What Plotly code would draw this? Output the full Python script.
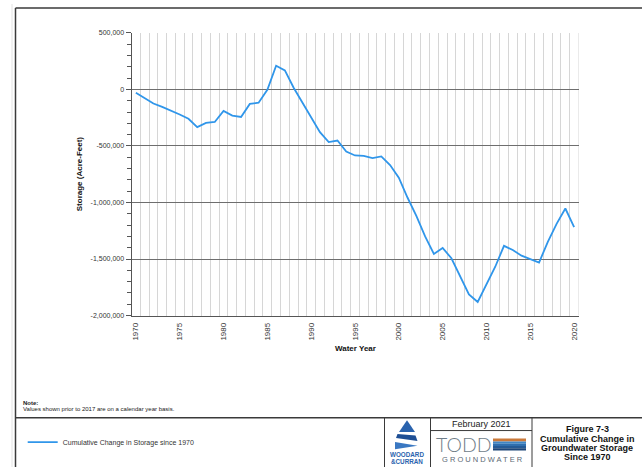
import plotly.graph_objects as go

# Cumulative change in groundwater storage (acre-feet), water years 1970-2020
years = list(range(1970, 2021))
storage = [
    -30000, -78000, -125000, -155000, -187000, -222000, -260000, -333000,
    -296000, -288000, -190000, -232000, -244000, -128000, -118000, -3000,
    209000, 168000, 15000, -115000, -250000, -378000, -466000, -452000,
    -550000, -584000, -587000, -607000, -592000, -669000, -781000, -958000,
    -1118000, -1300000, -1455000, -1402000, -1493000, -1652000, -1812000,
    -1880000, -1725000, -1568000, -1383000, -1420000, -1470000, -1500000,
    -1531000, -1348000, -1189000, -1053000, -1217000,
]
series_name = "Cumulative Change in Storage since 1970"

y_tickvals = [500000, 0, -500000, -1000000, -1500000, -2000000]
y_ticktext = ["500,000", "0", "-500,000", "-1,000,000", "-1,500,000", "-2,000,000"]
x_tickvals = list(range(1970, 2021, 5))
x_ticktext = [str(v) for v in x_tickvals]

W, H = 642, 470


def px(x):
    return x / W


def py(y):
    return 1 - y / H


FONT = "Liberation Sans, Arial, sans-serif"
NARROW = "Liberation Sans Narrow, Arial Narrow, Liberation Sans"
LINE_BLUE = "#3096ea"
DARK = "#3a3a3a"

fig = go.Figure()
fig.add_trace(go.Scatter(
    x=years, y=storage, mode="lines", name=series_name,
    line=dict(color=LINE_BLUE, width=1.8),
    showlegend=True,
))

fig.update_layout(
    width=W, height=H, autosize=False,
    margin=dict(l=0, r=0, t=0, b=0),
    paper_bgcolor="white", plot_bgcolor="white",
    font=dict(family=FONT, color="#333333"),
    showlegend=True,
    legend=dict(
        x=px(22.7), y=py(444.7), xanchor="left", yanchor="middle",
        font=dict(size=7, family=FONT, color="#333333"),
        bgcolor="rgba(0,0,0,0)", borderwidth=0,
    ),
    xaxis=dict(
        domain=[px(131.5), px(578.5)],
        range=[1969.5, 2020.5],
        tickmode="array", tickvals=x_tickvals, ticktext=x_ticktext,
        tickangle=-90, tickfont=dict(size=8, family=FONT, color="#333333"),
        ticklabelstandoff=3,
        ticks="", showgrid=False, zeroline=False,
        showline=True, linecolor="#555555", linewidth=1,
        minor=dict(tick0=1969.5, dtick=1, showgrid=True,
                   gridcolor="#d6d6d6", gridwidth=1, ticks=""),
        fixedrange=True,
    ),
    yaxis=dict(
        domain=[py(316.3), py(29.3)],
        range=[-2000000, 500000],
        tickmode="array", tickvals=y_tickvals, ticktext=y_ticktext,
        tickfont=dict(size=7, family=FONT, color="#333333"),
        ticks="outside", ticklen=5, tickcolor="#555555", tickwidth=1,
        showgrid=True, gridcolor="#6e6e6e", gridwidth=1.3,
        zeroline=False,
        showline=True, linecolor="#555555", linewidth=1,
        minor=dict(dtick=100000, tick0=0, ticks="outside", ticklen=4,
                   tickcolor="#555555", showgrid=False),
        fixedrange=True,
    ),
)


def label(x, y, text, size, color, family=FONT, angle=0, xanchor="center", weight=None):
    font = dict(size=size, family=family, color=color)
    if weight is not None:
        font["weight"] = weight
    fig.add_annotation(x=px(x), y=py(y), xref="paper", yref="paper",
                       text=text, textangle=angle, showarrow=False,
                       xanchor=xanchor, yanchor="middle", font=font)


# axis titles
label(79, 172.8, "<b>Storage (Acre-Feet)</b>", 8, "#111111", angle=-90)
label(355, 350, "<b>Water Year</b>", 8, "#111111")

# note
label(21, 405.3, "<b>Note:</b>", 6, "#222222", xanchor="left")
label(21, 411.3, "Values shown prior to 2017 are on a calendar year basis.", 6,
      "#222222", xanchor="left")

# page frame and title-block dividers
frame = [
    (15.5, 4, 15.5, 470, DARK, 1.5),
    (15.5, 4, 642, 4, DARK, 1.5),
    (15.5, 420, 642, 420, DARK, 1.5),
    (384.5, 420, 384.5, 470, DARK, 1),
    (430.5, 420, 430.5, 470, DARK, 1),
    (532, 420, 532, 470, DARK, 1),
    (430.5, 433, 532, 433, DARK, 1),
    (12, 0, 12, 470, "#e2e2e2", 1),
]
for x0, y0, x1, y1, c, w in frame:
    fig.add_shape(type="line", xref="paper", yref="paper",
                  x0=px(x0), y0=py(y0), x1=px(x1), y1=py(y1),
                  line=dict(color=c, width=w))

# right edge year-boundary grid line
fig.add_shape(type="line", xref="x", yref="y",
              x0=2020.5, x1=2020.5, y0=-2000000, y1=500000,
              line=dict(color="#d6d6d6", width=1), layer="below")


def poly(points, color):
    d = "M " + " L ".join(f"{px(x)},{py(y)}" for x, y in points) + " Z"
    fig.add_shape(type="path", xref="paper", yref="paper", path=d,
                  fillcolor=color, line=dict(width=0))


# Woodard & Curran mark
WC_BLUE = "#2a63ae"
poly([(407, 422.5), (415, 434.5), (399, 434.5)], WC_BLUE)
poly([(397.5, 436.5), (415.5, 438), (417.5, 443.5), (396, 440.5)], "#1e4f95")
poly([(395, 444.5), (417.5, 448.5), (395, 452)], "#3a78c2")
label(406.5, 457.8, "<b>WOODARD</b>", 6.3, WC_BLUE, family=NARROW)
label(406.5, 464, "<b>&amp;CURRAN</b>", 6.3, WC_BLUE, family=NARROW)

# Todd Groundwater block
label(481.5, 426.5, "February 2021", 9, "#222222")
label(463.5, 447.3, "TODD", 19.5, "#6f7d89", family="Lato, Liberation Sans", weight=300)
label(482, 462.7, "G R O U N D W A T E R", 7.5, "#5d6a75")
fig.add_shape(type="rect", xref="paper", yref="paper",
              x0=px(493), x1=px(526), y0=py(444), y1=py(441),
              fillcolor="#c9793a", line=dict(width=0))
bands = ["#3f86c4", "#2f6fae", "#245a95", "#1c4679"]
for i, c in enumerate(bands):
    fig.add_shape(type="rect", xref="paper", yref="paper",
                  x0=px(493), x1=px(526),
                  y0=py(444 + i * 2.3 + 2.3), y1=py(444 + i * 2.3),
                  fillcolor=c, line=dict(width=0))

# figure caption
caption = ["Figure 7-3", "Cumulative Change in", "Groundwater Storage", "Since 1970"]
for i, line in enumerate(caption):
    label(587, 431.7 + i * 9.4, f"<b>{line}</b>", 9, "#111111")

fig.write_html("out.html")
